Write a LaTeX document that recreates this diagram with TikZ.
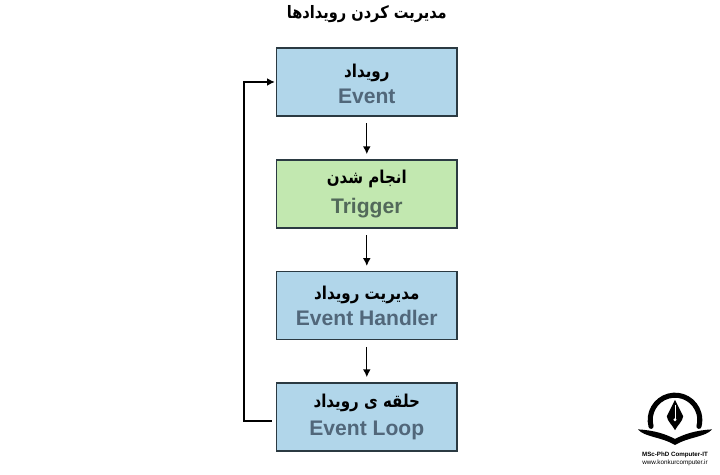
\documentclass[tikz,border=0pt]{standalone}
\usepackage{fontspec}
\usepackage{xcolor}
\usetikzlibrary{arrows.meta}
\setmainfont{Liberation Sans}
\newfontfamily\arabicfont[Script=Arabic,FakeStretch=0.85]{DejaVu Sans}
\TeXXeTstate=1
\definecolor{boxblue}{HTML}{B1D6EA}
\definecolor{boxgreen}{HTML}{C2E8B0}
\definecolor{boxline}{HTML}{2B3A42}
\definecolor{enslate}{HTML}{51677A}
\definecolor{engreen}{HTML}{52695A}
\newcommand{\fatext}[1]{{\arabicfont\bfseries\fontsize{12.6}{13}\selectfont\beginR #1\endR}}
\newcommand{\entext}[1]{{\bfseries\fontsize{15}{17}\selectfont #1}}
\tikzset{
  stepbox/.style={draw=boxline, line width=0.9pt, fill=boxblue, text=enslate,
    minimum width=4.51cm, minimum height=1.7cm, inner sep=0pt, align=center},
  flow/.style={-{Latex[length=5.5pt,width=5.5pt]}, line width=0.95pt, black, shorten <=0.16cm, shorten >=0.13cm},
}
\begin{document}
\begin{tikzpicture}
  \useasboundingbox (0,0) rectangle (18,11.875);
  \node[text=black] (title) at (9.17,11.53) {\arabicfont\bfseries\fontsize{12.2}{14}\selectfont\beginR مدیریت کردن رویدادها\endR};
  % the four steps
  \node[stepbox] (event) at (9.17,9.825) {\textcolor{black}{\rule{0pt}{12.5pt}\fatext{رویداد}}\\[4.5pt]\entext{Event}};
  \node[stepbox, fill=boxgreen, text=engreen] (trigger) at (9.17,7.025) {\textcolor{black}{\fatext{انجام شدن}}\\[7pt]\entext{Trigger}};
  \node[stepbox] (handler) at (9.17,4.23) {\textcolor{black}{\fatext{مدیریت رویداد}}\\[4pt]\entext{Event Handler}};
  \node[stepbox] (loop) at (9.17,1.45) {\textcolor{black}{\fatext{حلقه ی رویداد}}\\[6pt]\entext{Event Loop}};
  \draw[flow] (event) -- (trigger);
  \draw[flow] (trigger) -- (handler);
  \draw[flow] (handler) -- (loop);
  % way back to the first step
  \coordinate (turn) at (6.1,1.35);
  \draw[flow, line width=0.85pt, shorten <=0.11cm, shorten >=0.03cm] (loop.west |- turn) -- (turn) |- (event.west);
  % logo
  \draw[line width=3.6pt, line cap=round] (16.276,1.215) arc[start angle=195, end angle=-15, radius=0.62];
  \fill (16.875,1.875) -- (17.08,1.47) .. controls (17.06,1.33) and (16.94,1.25) .. (16.875,1.12)
        .. controls (16.81,1.25) and (16.69,1.33) .. (16.67,1.47) -- cycle;
  \draw[white, line width=0.5pt] (16.875,1.75) -- (16.875,1.4);
  \fill[white] (16.875,1.38) circle (0.04);
  \fill (15.95,1.14) .. controls (16.35,1.12) and (16.65,1.02) .. (16.875,0.9)
        .. controls (17.1,1.02) and (17.4,1.12) .. (17.8,1.14)
        .. controls (17.65,0.95) and (17.2,0.95) .. (16.875,0.75)
        .. controls (16.55,0.95) and (16.1,0.95) .. (15.95,1.14) -- cycle;
  \node[font=\bfseries\fontsize{4.4}{6}\selectfont, inner sep=0pt] (degree) at (16.875,0.5) {MSc-PhD Computer-IT};
  \node[font=\fontsize{4.5}{6}\selectfont, inner sep=0pt] (site) at (16.875,0.3) {www.konkurcomputer.ir};
\end{tikzpicture}
\end{document}
